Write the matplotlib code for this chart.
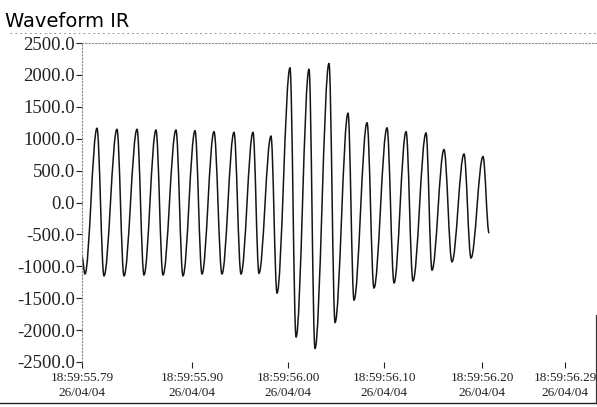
import matplotlib
matplotlib.use("Agg")
import matplotlib.pyplot as plt
from matplotlib.lines import Line2D
from matplotlib.path import Path
from matplotlib.patches import PathPatch

# time in ms after 18:59:55.79, read at each peak / trough of the trace
t_ms = [0, 3.1, 15.6, 22.9, 36.4, 43.7, 57.3, 64.5, 77.0, 84.3, 97.8, 105.1,
        117.6, 124.9, 137.4, 145.7, 158.2, 165.5, 178.0, 184.2, 196.7, 203.0,
        216.5, 222.8, 236.3, 242.5, 257.1, 263.4, 276.9, 283.1, 296.7, 303.9,
        317.5, 324.8, 337.3, 344.5, 358.1, 364.3, 376.8, 385.1, 397.6, 404.9,
        417.4, 423.7]
current = [-850, -1120, 1163, -1150, 1147, -1150, 1147, -1136, 1136, -1136, 1136, -1150,
           1125, -1120, 1110, -1120, 1100, -1120, 1100, -1110, 1040, -1420,
           2110, -2110, 2090, -2290, 2180, -1880, 1400, -1530, 1250, -1340,
           1170, -1260, 1110, -1230, 1090, -1060, 830, -930, 760, -870,
           720, -480]

y_ticks = [2500, 2000, 1500, 1000, 500, 0, -500, -1000, -1500, -2000, -2500]
x_ticks = [0, 114.5, 214.5, 314.5, 416.5, 503]
x_labels = ["18:59:55.79\n26/04/04", "18:59:55.90\n26/04/04", "18:59:56.00\n26/04/04",
            "18:59:56.10\n26/04/04", "18:59:56.20\n26/04/04", "18:59:56.29\n26/04/04"]

fig = plt.figure(figsize=(5.97, 4.07), dpi=100)
ax = fig.add_axes([82 / 597, 1 - 362 / 407, 514 / 597, 319 / 407])

# smooth trace: bezier segments between the read extremes, flat at each extreme
verts = [(t_ms[0], current[0])]
codes = [Path.MOVETO]
for i in range(1, len(t_ms)):
    t0, v0 = t_ms[i - 1], current[i - 1]
    t1, v1 = t_ms[i], current[i]
    k = 0.36 * (t1 - t0)
    verts += [(t0 + k, v0), (t1 - k, v1), (t1, v1)]
    codes += [Path.CURVE4] * 3
ax.add_patch(PathPatch(Path(verts, codes), fill=False, edgecolor="#151515", lw=1.1))

ax.set_xlim(0, 535)
ax.set_ylim(-2500, 2500)
ax.set_yticks(y_ticks)
ax.set_yticklabels(["%.1f" % v for v in y_ticks], family="Liberation Serif", fontsize=13.5)
ax.set_xticks(x_ticks)
ax.set_xticklabels(x_labels, family="Liberation Serif", fontsize=9.5, linespacing=1.35)
ax.tick_params(axis="y", length=4, width=0.8, pad=1, colors="#222222")
ax.tick_params(axis="x", length=4, width=0.8, pad=3, colors="#222222")

for s in ("right", "bottom"):
    ax.spines[s].set_visible(False)
for s in ("left", "top"):
    ax.spines[s].set_linestyle((0, (1, 2)))
    ax.spines[s].set_color("#888888")
    ax.spines[s].set_linewidth(0.8)

# scanned frame lines around the plot
fig.add_artist(Line2D([10 / 597, 1], [1 - 33 / 407] * 2, color="#999999", lw=0.7, ls=(0, (2, 3))))
fig.add_artist(Line2D([0, 1], [1 - 403 / 407] * 2, color="#222222", lw=1.0))
fig.add_artist(Line2D([595.5 / 597] * 2, [1 - 403 / 407, 1 - 315 / 407], color="#333333", lw=0.9))

fig.text(5 / 597, 1 - 27 / 407, "Waveform IR", fontsize=14, va="baseline", family="DejaVu Sans")

fig.savefig("out.png", dpi=100)
